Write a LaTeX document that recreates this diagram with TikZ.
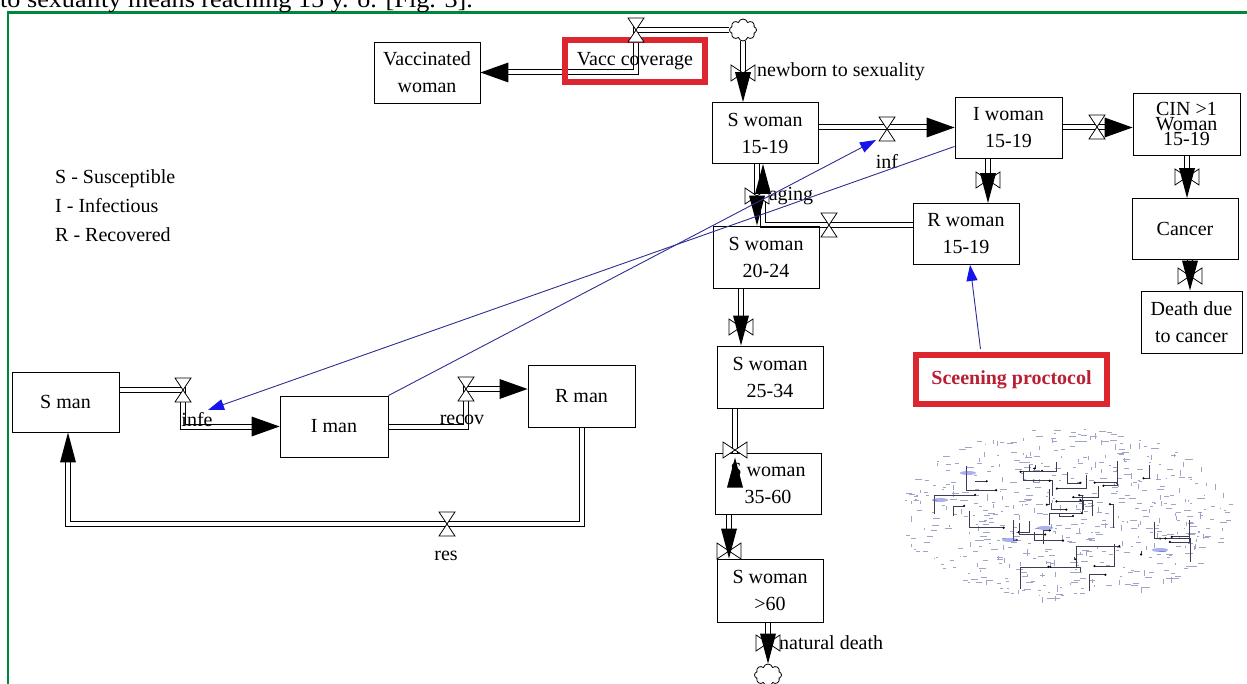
\documentclass[tikz,border=0pt]{standalone}
\usepackage{fontspec}
\setmainfont{Liberation Serif}
\usepackage{graphicx}
\usetikzlibrary{calc,shapes.symbols,arrows.meta}
\pgfdeclarelayer{bg}\pgfdeclarelayer{fg}
\pgfsetlayers{bg,main,fg}
\definecolor{frameg}{RGB}{0,135,60}
\definecolor{redb}{RGB}{222,38,48}
\definecolor{redt}{RGB}{185,30,50}
\definecolor{navy}{RGB}{45,45,150}
\definecolor{bluea}{RGB}{20,20,235}
\definecolor{blobc}{RGB}{160,165,200}
\definecolor{blobd}{RGB}{60,60,85}
\definecolor{blobb}{RGB}{90,100,220}
\begin{document}
\begin{tikzpicture}[x=1pt,y=-1pt,
 box/.style={draw=black,line width=0.9pt,align=center,minimum width=106pt,minimum height=61pt,inner sep=0pt,font=\fontsize{20}{27}\selectfont},
 redbox/.style={draw=redb,line width=6pt,align=center,inner sep=0pt,font=\fontsize{20}{24}\selectfont},
 pipe/.style={draw=white,line width=4pt,preaction={draw=black,line width=6pt}},
 lbl/.style={font=\fontsize{20}{24}\selectfont,inner sep=0pt},
 leg/.style={font=\fontsize{20}{24}\selectfont,inner sep=0pt,anchor=base west},
 infl/.style={draw=navy,line width=0.9pt,-{Triangle[length=16pt,width=11pt,color=bluea]}},
 cloudn/.style={cloud,draw,cloud puffs=8,minimum width=27pt,minimum height=22pt,inner sep=0pt,line width=0.8pt},
 ahR/.pic={\fill[black] (0,0)--(-28,-10)--(-28,10)--cycle;},
 ahL/.pic={\fill[black] (0,0)--(28,-10)--(28,10)--cycle;},
 ahD/.pic={\fill[black] (0,0)--(-8,-30)--(8,-30)--cycle;},
 ahU/.pic={\fill[black] (0,0)--(-8,30)--(8,30)--cycle;},
 valveH/.pic={\draw[fill=white,line width=0.8pt] (-8,-12)--(8,-12)--(0,0)--cycle (-8,12)--(8,12)--(0,0)--cycle;},
 valveV/.pic={\draw[fill=white,line width=0.8pt] (-12,-8)--(-12,8)--(0,0)--cycle (12,-8)--(12,8)--(0,0)--cycle;}
]
\useasboundingbox (0,0) rectangle (1247,684);

% top text of the page
\node[anchor=base west,inner sep=0pt,font=\fontsize{24}{28}\selectfont] (top) at (0,8) {\scalebox{1.09}[1]{to sexuality means reaching 15 y. o. [Fig. 3].}};

% boxes
\node[box] (VW) at (427,72.5) {Vaccinated\\woman};
\node[redbox,minimum width=140pt,minimum height=42pt] (VC) at (635,61) {Vacc coverage};
\node[cloudn] (c1) at (743,30) {};
\node[box] (Sw1) at (765,133) {S woman\\15-19};
\node[box,minimum width=107pt] (Iw) at (1008.5,127.5) {I woman\\15-19};
\node[box,minimum width=107pt,minimum height=62pt,font=\fontsize{20}{15}\selectfont] (CIN) at (1186.5,124) {CIN >1\\Woman\\15-19};
\node[box] (Can) at (1185,229) {Cancer};
\node[box,minimum width=101pt,minimum height=62pt] (Dth) at (1191.5,322) {Death due\\to cancer};
\node[box] (Rw) at (966,234) {R woman\\15-19};
\node[box,minimum height=62pt] (Sw2) at (766,257) {S woman\\20-24};
\node[box,minimum height=62pt] (Sw3) at (770,377) {S woman\\25-34};
\node[box] (Sw4) at (768,483.5) {S woman\\35-60};
\node[box,minimum height=63pt] (Sw5) at (770,590.5) {S woman\\>60};
\node[cloudn] (c2) at (768,675) {};
\node[box,minimum width=107pt,minimum height=60pt] (Sman) at (65.5,402) {S man};
\node[box,minimum width=108pt] (Iman) at (334,426.5) {I man};
\node[box,minimum width=107pt,minimum height=62pt] (Rman) at (581.5,396) {R man};
\node[redbox,minimum width=191pt,minimum height=49pt,font=\bfseries\fontsize{20}{24}\selectfont,text=redt] (Scr) at (1011.5,379.5) {Sceening proctocol};

% legend
\node[leg] (leg1) at (55,184) {S - Susceptible};
\node[leg] (leg2) at (55,213) {I - Infectious};
\node[leg] (leg3) at (55,242) {R - Recovered};

% labels
\node[lbl,anchor=west] (lNb) at (757,72) {newborn to sexuality};
\node[lbl] (lInf) at (887,161) {inf};
\node[lbl] (lAg) at (791,196) {aging};
\node[lbl] (lInfe) at (197,420) {infe};
\node[lbl] (lRec) at (462,420) {recov};
\node[lbl] (lRes) at (446,556) {res};
\node[lbl,anchor=west] (lNd) at (779,643) {natural death};

% valve positions
\coordinate (vVacc) at (636,30);
\coordinate (vNb) at (743,73);
\coordinate (vInf) at (887,129);
\coordinate (vCin) at (1097,127);
\coordinate (vCan) at (1187,177);
\coordinate (vDth) at (1190,276);
\coordinate (vRw) at (988,180);
\coordinate (vRet) at (829,225);
\coordinate (retX) at (763,196);
\coordinate (vAg) at (757,196);
\coordinate (vS3) at (741,327);
\coordinate (vS4) at (735,450);
\coordinate (vS5) at (729,551);
\coordinate (vNd) at (768,643);
\coordinate (vInfe) at (183,390);
\coordinate (vRec) at (466,389);
\coordinate (vRes) at (447,524);
\coordinate (infeT) at (208,410);
\coordinate (infT) at (876,140);

\begin{pgfonlayer}{bg}
\draw[frameg,line width=2.6pt] (8,690) -- (8,12.5) -- (1250,12.5);
% pipes
\draw[pipe,shorten >=14pt] (c1.west) -- (vVacc) |- (VW.east);
\draw[pipe,shorten >=14pt] (c1.south) -- (c1.south |- Sw1.north);
\draw[pipe,shorten >=14pt] (Sw1.east |- Iw.west) -- (Iw.west);
\draw[pipe,shorten >=14pt] (Iw.east) -- (Iw.east -| CIN.west);
\draw[pipe,shorten >=14pt] (vCan |- CIN.south) -- (vCan |- Can.north);
\draw[pipe,shorten >=14pt] (vDth |- Can.south) -- (vDth |- Dth.north);
\draw[pipe,shorten >=14pt] (vRw |- Iw.south) -- (vRw |- Rw.north);
\draw[pipe,shorten >=14pt] ($(Rw.west)+(0,-9)$) -| (retX |- Sw1.south);
\draw[pipe,shorten >=14pt] (vAg |- Sw1.south) -- (vAg |- Sw2.north);
\draw[pipe,shorten >=14pt] (vS3 |- Sw2.south) -- (vS3 |- Sw3.north);
\draw[pipe] (vS4 |- Sw3.south) -- (vS4 |- Sw4.north);
\draw[pipe,shorten >=14pt] (vS5 |- Sw4.south) -- (vS5 |- Sw5.north);
\draw[pipe,shorten >=14pt] (vNd |- Sw5.south) -- (c2.north);
\draw[pipe,shorten >=14pt] ($(Sman.east)+(0,-12)$) -- (vInfe) |- (Iman.west);
\draw[pipe,shorten >=14pt] (Iman.east) -| (vRec) -- ($(Rman.west)+(0,-7)$);
\draw[pipe,shorten >=14pt] (Rman.south) |- (vRes) -| ($(Sman.south)+(2.5,0)$);

% model image (dense network)
\pgfmathsetseed{12}
\foreach \i in {1,...,420}{
 \pgfmathsetmacro\ang{360*rnd}
 \pgfmathsetmacro\rr{sqrt(rnd)}
 \pgfmathsetmacro\px{1065+168*\rr*cos(\ang)}
 \pgfmathsetmacro\py{514+86*\rr*sin(\ang)}
 \pgfmathsetmacro\ll{1.5+6*rnd}
 \draw[blobc,line width=0.6pt] (\px,\py) -- ++(\ll,0);
}
\foreach \i in {1,...,140}{
 \pgfmathsetmacro\ang{360*rnd}
 \pgfmathsetmacro\rr{sqrt(rnd)}
 \pgfmathsetmacro\px{1065+165*\rr*cos(\ang)}
 \pgfmathsetmacro\py{514+84*\rr*sin(\ang)}
 \pgfmathsetmacro\ll{1.5+5*rnd}
 \draw[blobc,line width=0.6pt] (\px,\py) -- ++(0,\ll);
}
\foreach \i in {1,...,40}{
 \pgfmathsetmacro\ang{360*rnd}
 \pgfmathsetmacro\rr{sqrt(rnd)}
 \pgfmathsetmacro\px{1065+125*\rr*cos(\ang)}
 \pgfmathsetmacro\py{522+58*\rr*sin(\ang)}
 \pgfmathsetmacro\lx{(rnd-0.5)*90}
 \pgfmathsetmacro\ly{(rnd-0.5)*50}
 \draw[blobd,line width=0.7pt] (\px,\py) -- ++(\lx,0) -- ++(0,\ly);
 \fill[black] (\px,\py) circle (1.2pt);
}
\foreach \bx/\by in {968/473, 1010/540, 1045/528, 1160/550, 940/500}{
 \fill[blobb,opacity=0.5] (\bx,\by) ellipse (8pt and 2pt);
}
\end{pgfonlayer}

% valves
\pic at (vVacc) {valveH};
\pic at (vNb) {valveV};
\pic at (vInf) {valveH};
\pic at (vCin) {valveH};
\pic at (vCan) {valveV};
\pic at (vDth) {valveV};
\pic at (vRw) {valveV};
\pic at (vRet) {valveH};
\pic at (vAg) {valveV};
\pic at (vS3) {valveV};
\pic at (vS4) {valveV};
\pic at (vS5) {valveV};
\pic at (vNd) {valveV};
\pic at (vInfe) {valveH};
\pic at (vRec) {valveH};
\pic at (vRes) {valveH};

\begin{pgfonlayer}{fg}
% arrowheads
\pic at (VW.east) {ahL};
\pic at (c1.south |- Sw1.north) {ahD};
\pic at (Iw.west) {ahR};
\pic at (CIN.west |- Iw.east) {ahR};
\pic at (vCan |- Can.north) {ahD};
\pic at (vDth |- Dth.north) {ahD};
\pic at (vRw |- Rw.north) {ahD};
\pic at (retX |- Sw1.south) {ahU};
\pic at (vAg |- Sw2.north) {ahD};
\pic at (vS3 |- Sw3.north) {ahD};
\pic at ($(vS4 |- Sw4.north)+(0,5)$) {ahU};
\pic at (vS5 |- Sw5.north) {ahD};
\pic at (c2.north) {ahD};
\pic at (Iman.west) {ahR};
\pic at ($(Rman.west)+(0,-7)$) {ahR};
\pic at ($(Sman.south)+(2.5,0)$) {ahU};
% information links
\draw[infl] ($(Iw.south west)+(0,-12)$) -- (infeT);
\draw[infl] (Iman.north east) -- (infT);
\draw[infl] ($(Scr.north)+(-31,-3)$) -- ($(Rw.south)+(4,0)$);
\end{pgfonlayer}
\end{tikzpicture}
\end{document}
